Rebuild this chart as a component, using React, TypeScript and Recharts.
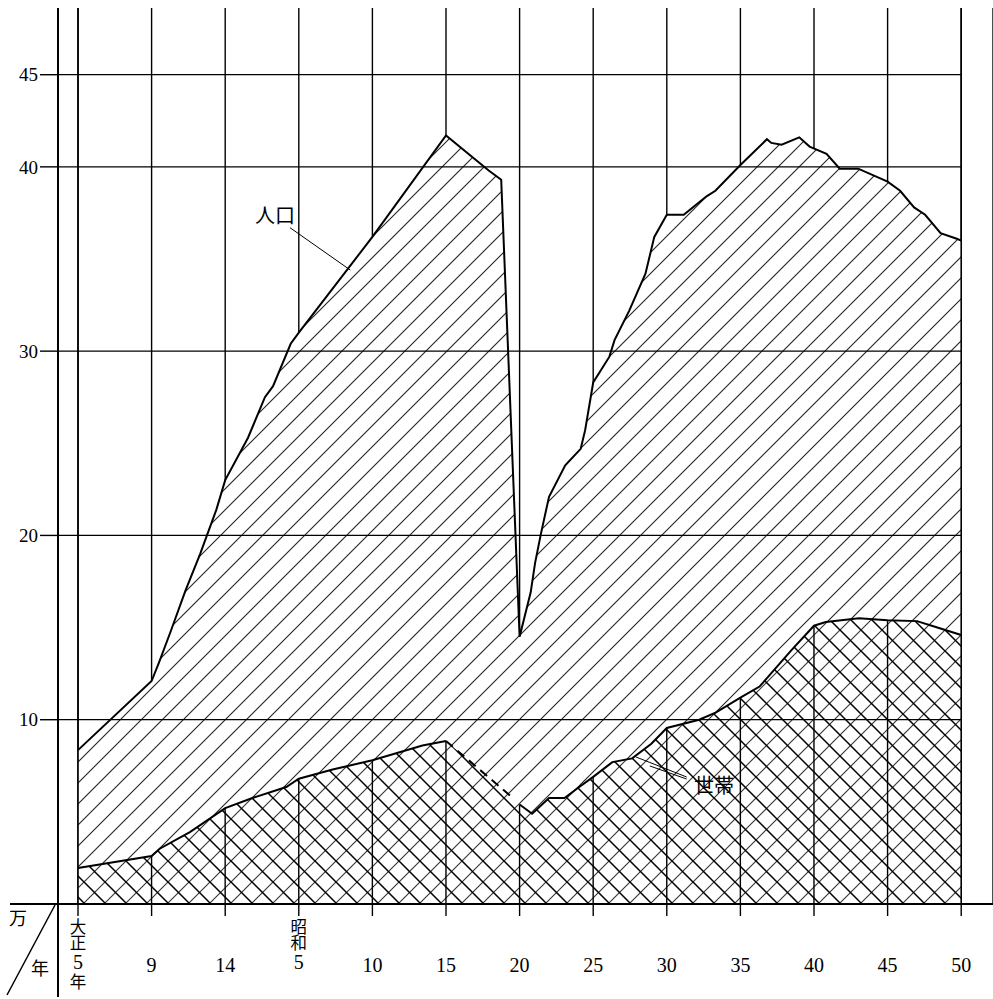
import React from 'react';
import {
  ComposedChart,
  Area,
  Line,
  Bar,
  XAxis,
  YAxis,
  CartesianGrid,
  ReferenceLine,
  ReferenceDot,
  Label,
} from 'recharts';

// 横軸の目盛 (大正5年〜昭和50年)
const tickYears = [1916, 1920, 1925, 1930, 1935, 1940, 1945, 1950, 1955, 1960, 1965, 1970, 1975];
const tickLabels = [
  ['大正', '5', '年'],
  ['9'],
  ['14'],
  ['昭和', '5', ''],
  ['10'],
  ['15'],
  ['20'],
  ['25'],
  ['30'],
  ['35'],
  ['40'],
  ['45'],
  ['50'],
];
const yTicks = [10, 20, 30, 40, 45];

// 人口 (万人)
const popYears = [
  1916, 1920, 1920.5, 1921.3, 1922.3, 1923.3, 1924.4, 1925, 1926.55, 1927.7, 1928.25, 1929.45, 1930,
  1935, 1940, 1942.9, 1943.75, 1945, 1945.75, 1946.05, 1946.45, 1947, 1948.1, 1949.15, 1949.45, 1950,
  1951.1, 1951.45, 1952.45, 1953.55, 1954.15, 1955, 1956.15, 1957.7, 1958.3, 1960, 1961.8, 1962.1,
  1962.8, 1964, 1964.7, 1965.85, 1966.75, 1968, 1970, 1970.85, 1971.8, 1972.55, 1973.6, 1974.7, 1975,
];
const popValues = [
  8.35, 12.1, 13.1, 14.8, 17.0, 19.0, 21.4, 23.0, 25.3, 27.5, 28.1, 30.4, 31.0,
  36.2, 41.7, 39.8, 39.3, 14.5, 16.9, 18.5, 20.1, 22.1, 23.8, 24.7, 25.7, 28.3,
  29.7, 30.6, 32.2, 34.2, 36.2, 37.4, 37.4, 38.4, 38.7, 40.1, 41.5, 41.3,
  41.2, 41.6, 41.1, 40.7, 39.9, 39.9, 39.2, 38.7, 37.8, 37.4, 36.4, 36.1, 36.0,
];

// 世帯 (万世帯)
const hhYears = [
  1916, 1920, 1920.55, 1922.6, 1925, 1926.85, 1929.15, 1930, 1932.3, 1935, 1938.4, 1940,
  1944.4, 1945, 1945.85, 1947, 1948.05, 1949.05, 1950, 1951.3, 1952.65, 1953.95, 1955,
  1957.2, 1958.35, 1960, 1961.3, 1963.5, 1965, 1965.8, 1968.05, 1970, 1972, 1973, 1975,
];
const hhValues = [
  1.95, 2.6, 3.0, 3.9, 5.2, 5.75, 6.35, 6.8, 7.3, 7.8, 8.6, 8.85,
  5.85, 5.4, 4.9, 5.75, 5.75, 6.35, 6.9, 7.7, 7.9, 8.7, 9.55,
  10.0, 10.4, 11.2, 11.8, 13.8, 15.1, 15.3, 15.5, 15.4, 15.35, 15.1, 14.6,
];

// 大正5〜9年も他と同じ間隔で描かれている
const toPos = (year: number) => (year < 1920 ? (year - 1916) / 4 : 1 + (year - 1920) / 5);

const popData = popYears.map((y, i) => ({ pos: toPos(y), pop: popValues[i] }));
const hhData = hhYears.map((y, i) => ({ pos: toPos(y), hh: hhValues[i], year: y }));
const hhPre = hhData.filter((d) => d.year <= 1940);
const hhWar = hhData.filter((d) => d.year >= 1940 && d.year <= 1944.4);
const hhPost = hhData.filter((d) => d.year >= 1945);
// 世帯の中に見える縦線 (目盛の位置)
const hhTickData = tickYears
  .slice(1, -1)
  .map((y) => ({ pos: toPos(y), hh: hhValues[hhYears.indexOf(y)] }));

const X_MIN = -0.2717;
const X_MAX = 12.432;
const Y_MAX = 48.62;
const SERIF = '"Liberation Serif", "DejaVu Serif", serif';
const CJK = '"Noto Sans CJK JP", sans-serif';

function XTick(props: any) {
  const { x, y, payload } = props;
  const parts = tickLabels[payload.value] || [];
  const base = y - 14;
  if (parts.length === 1) {
    return (
      <text x={x} y={base + 61} textAnchor="middle" dominantBaseline="central" fontFamily={SERIF} fontSize={20} fill="#000">
        {parts[0]}
      </text>
    );
  }
  // 縦書きの目盛
  return (
    <text
      x={x}
      y={base + 14}
      fill="#000"
      fontFamily={CJK}
      fontSize={16.5}
      style={{ writingMode: 'vertical-rl', textOrientation: 'upright' } as any}
    >
      {parts[0]}
      <tspan fontFamily={SERIF} fontSize={20}>
        {parts[1]}
      </tspan>
      {parts[2]}
    </text>
  );
}

function Corner(props: any) {
  const vb = props.viewBox || {};
  const right = vb.x + vb.width;
  const bottom = vb.y + vb.height;
  return (
    <g>
      <line x1={right} y1={bottom} x2={right} y2={bottom + 93} stroke="#000" strokeWidth={2} />
      <line x1={10} y1={bottom} x2={right} y2={bottom} stroke="#000" strokeWidth={2} />
      <line x1={right - 3} y1={bottom + 1} x2={7} y2={bottom + 91} stroke="#000" strokeWidth={1.5} />
      <text x={18} y={bottom + 13} textAnchor="middle" dominantBaseline="central" fontFamily={CJK} fontSize={18} fill="#000">
        万
      </text>
      <text x={40} y={bottom + 63} textAnchor="middle" dominantBaseline="central" fontFamily={CJK} fontSize={18} fill="#000">
        年
      </text>
    </g>
  );
}

function VLine(props: any) {
  const { x, y, width, height } = props;
  const cx = x + width / 2;
  return <line x1={cx} y1={y} x2={cx} y2={y + height + 12} stroke="#000" strokeWidth={1.4} />;
}

function TextMark(text: string) {
  return (props: any) => (
    <text x={props.cx} y={props.cy} textAnchor="middle" dominantBaseline="central" fontFamily={CJK} fontSize={20} fill="#000">
      {text}
    </text>
  );
}

export default function App() {
  return (
    <div style={{ position: 'absolute', left: 0, top: 0, width: 993, height: 999, background: '#fff' }}>
      <ComposedChart width={993} height={999} data={hhTickData} margin={{ top: 8, right: 0, bottom: 0, left: 0 }}>
        <defs>
          <pattern id="hatch" patternUnits="userSpaceOnUse" width={21} height={21}>
            <rect width={21} height={21} fill="#fff" />
            <path d="M0,21 L21,0 M-5,5 L5,-5 M16,26 L26,16" stroke="#222" strokeWidth={1.1} />
          </pattern>
          <pattern id="cross" patternUnits="userSpaceOnUse" width={21} height={21}>
            <rect width={21} height={21} fill="#fff" />
            <path d="M0,21 L21,0 M-5,5 L5,-5 M16,26 L26,16" stroke="#333" strokeWidth={1.1} />
            <path d="M0,0 L21,21 M-5,16 L5,26 M16,-5 L26,5" stroke="#000" strokeWidth={1.5} />
          </pattern>
        </defs>
        <CartesianGrid horizontal={false} stroke="#000" strokeWidth={1.4} strokeOpacity={1} />
        <XAxis
          dataKey="pos"
          type="number"
          domain={[X_MIN, X_MAX]}
          ticks={tickYears.map(toPos)}
          allowDataOverflow
          height={95}
          tickSize={12}
          tickMargin={2}
          tickLine={{ stroke: '#000', strokeWidth: 1.4 }}
          axisLine={{ stroke: '#000', strokeWidth: 2 }}
          tick={<XTick />}
          interval={0}
        />
        <YAxis
          type="number"
          domain={[0, Y_MAX]}
          ticks={yTicks}
          allowDataOverflow
          width={58}
          tickSize={18}
          tickMargin={2}
          tickLine={{ stroke: '#000', strokeWidth: 1.4 }}
          axisLine={{ stroke: '#000', strokeWidth: 2 }}
          tick={{ fill: '#000', fontSize: 19, fontFamily: SERIF }}
        >
          <Label content={<Corner />} />
        </YAxis>
        <Area
          data={popData}
          dataKey="pop"
          type="linear"
          stroke="#000"
          strokeWidth={2}
          fill="url(#hatch)"
          fillOpacity={1}
          isAnimationActive={false}
        />
        <Area
          data={hhData}
          dataKey="hh"
          type="linear"
          stroke="none"
          fill="url(#cross)"
          fillOpacity={1}
          isAnimationActive={false}
        />
        <Bar dataKey="hh" barSize={2} shape={<VLine />} isAnimationActive={false} />
        <Line data={hhPre} dataKey="hh" type="linear" stroke="#000" strokeWidth={2} dot={false} isAnimationActive={false} />
        <Line
          data={hhWar}
          dataKey="hh"
          type="linear"
          stroke="#000"
          strokeWidth={2}
          strokeDasharray="9 6"
          dot={false}
          isAnimationActive={false}
        />
        <Line data={hhPost} dataKey="hh" type="linear" stroke="#000" strokeWidth={2} dot={false} isAnimationActive={false} />
        {yTicks.map((v) => (
          <ReferenceLine
            key={v}
            segment={[
              { x: X_MIN, y: v },
              { x: 12, y: v },
            ]}
            stroke="#000"
            strokeWidth={1.2}
          />
        ))}
        <ReferenceLine x={0} stroke="#000" strokeWidth={1.6} />
        <ReferenceLine x={12} stroke="#000" strokeWidth={1.6} />
        <ReferenceLine segment={[{ x: 2.88, y: 36.7 }, { x: 3.7, y: 34.4 }]} stroke="#000" strokeWidth={1} />
        <ReferenceLine segment={[{ x: 8.27, y: 6.89 }, { x: 7.58, y: 7.98 }]} stroke="#000" strokeWidth={1} />
        <ReferenceLine segment={[{ x: 8.27, y: 6.78 }, { x: 7.77, y: 7.49 }]} stroke="#000" strokeWidth={1} />
        <ReferenceDot x={2.677} y={37.4} r={0} shape={TextMark('人口')} />
        <ReferenceDot x={8.64} y={6.46} r={0} shape={TextMark('世帯')} />
      </ComposedChart>
    </div>
  );
}
